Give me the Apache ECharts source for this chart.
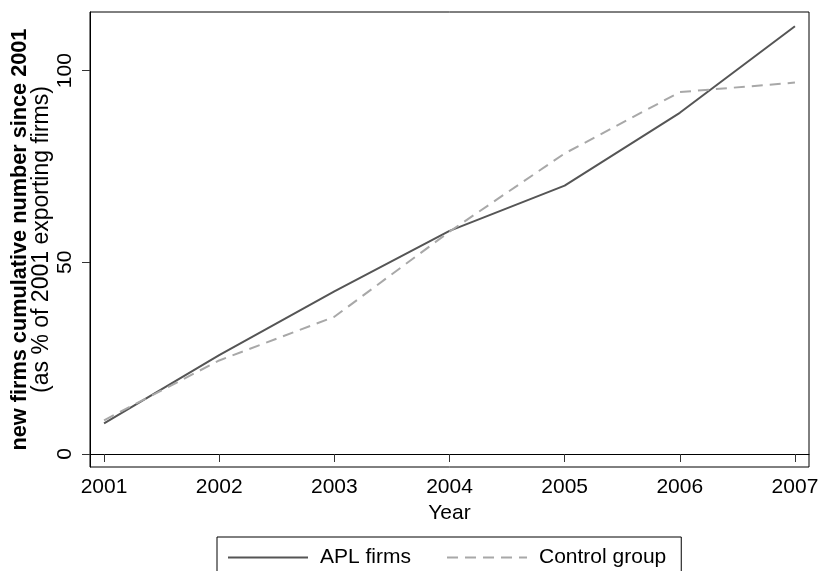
<!DOCTYPE html>
<html>
<head>
<meta charset="utf-8">
<script src="https://cdn.jsdelivr.net/npm/echarts@6/dist/echarts.min.js"></script>
<style>html,body{margin:0;padding:0;background:#fff}#c{width:821px;height:571px}</style>
</head>
<body>
<div id="c"></div>
<script>
var years = [2001, 2002, 2003, 2004, 2005, 2006, 2007];
var aplFirms = [8.0, 25.8, 42.4, 58.2, 70.0, 89.0, 111.6];
var controlGroup = [8.8, 24.4, 35.8, 58.0, 78.4, 94.4, 96.9];
var yTicks = [0, 50, 100];
var seriesNames = ['APL firms', 'Control group'];

var font = 'Liberation Sans, Arial, sans-serif';
var chart = echarts.init(document.getElementById('c'), null, {renderer: 'canvas'});
function pairs(v) { return years.map(function (y, i) { return [y, v[i]]; }); }
chart.setOption({
  animation: false,
  backgroundColor: '#fff',
  grid: {left: 90, top: 12, right: 12, bottom: 104, show: true, borderColor: '#000', borderWidth: 1,
         containLabel: false, outerBoundsMode: 'none'},
  xAxis: {
    type: 'value', min: 2000.878, max: 2007.122,
    name: 'Year', nameLocation: 'middle', nameGap: 36, nameMoveOverlap: false,
    nameTextStyle: {fontFamily: font, fontSize: 21, color: '#000'},
    axisLine: {show: true, lineStyle: {color: '#000', width: 1}},
    axisTick: {show: true, length: 8, customValues: years, lineStyle: {color: '#333'}},
    axisLabel: {customValues: years, fontFamily: font, fontSize: 21, color: '#000', margin: 10,
                formatter: function (v) { return String(Math.round(v)); }},
    splitLine: {show: false}
  },
  yAxis: {
    type: 'value', min: -3.39, max: 115.3,
    name: '{b|new firms cumulative number since 2001}\n{n|(as % of 2001 exporting firms)}',
    nameLocation: 'middle', nameRotate: 90, nameGap: 38, nameMoveOverlap: false,
    nameTextStyle: {
      fontFamily: font, color: '#000', align: 'center',
      rich: {
        b: {fontFamily: font, fontSize: 21.7, fontWeight: 'bold', color: '#000', lineHeight: 21, align: 'center'},
        n: {fontFamily: font, fontSize: 23, color: '#000', lineHeight: 21, align: 'center'}
      }
    },
    axisLine: {show: true, lineStyle: {color: '#000', width: 1}},
    axisTick: {show: true, length: 8, customValues: yTicks, lineStyle: {color: '#333'}},
    axisLabel: {customValues: yTicks, rotate: 90, fontFamily: font, fontSize: 21, color: '#000', margin: 14},
    splitLine: {show: false}
  },
  legend: {
    data: seriesNames,
    left: 217, top: 537,
    padding: [10, 15, 30, 10],
    borderColor: '#000', borderWidth: 1,
    itemWidth: 80, itemHeight: 20, itemGap: 35,
    itemStyle: {opacity: 0},
    textStyle: {fontFamily: font, fontSize: 21, color: '#000', padding: [0, 0, 0, 7]}
  },
  series: [
    {name: seriesNames[0], type: 'line', data: pairs(aplFirms), symbol: 'none',
     lineStyle: {color: '#555', width: 2, type: 'solid'}, itemStyle: {color: '#555'}},
    {name: seriesNames[1], type: 'line', data: pairs(controlGroup), symbol: 'none',
     lineStyle: {color: '#a8a8a8', width: 2, type: [11, 7]}, itemStyle: {color: '#a8a8a8'}}
  ]
});
</script>
</body>
</html>
